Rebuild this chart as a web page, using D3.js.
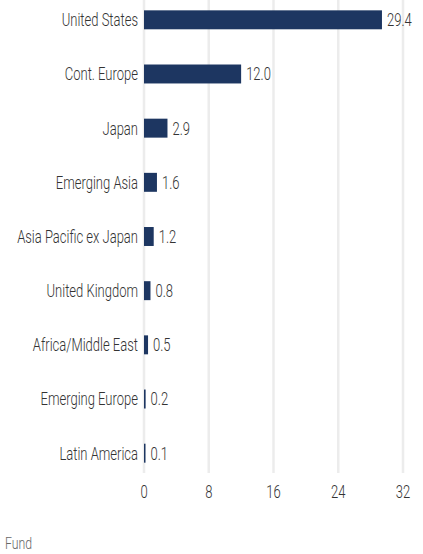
<!DOCTYPE html>
<html lang="en">
<head>
<meta charset="UTF-8">
<script src="https://d3js.org/d3.v7.min.js"></script>
<style>
  body { margin: 0; background: #fff; }
  text { font-family: Roboto, "Liberation Sans", sans-serif; font-weight: 300; }
</style>
</head>
<body>
<svg width="423" height="554"></svg>
<script>
  // regions and fund weights (%)
  const regions = ["United States", "Cont. Europe", "Japan", "Emerging Asia",
    "Asia Pacific ex Japan", "United Kingdom", "Africa/Middle East",
    "Emerging Europe", "Latin America"];
  const values = [29.4, 12.0, 2.9, 1.6, 1.2, 0.8, 0.5, 0.2, 0.1];
  const ticks = [0, 8, 16, 24, 32];

  const svg = d3.select("svg");
  const x = d3.scaleLinear().domain([0, 32]).range([144, 403]);
  const y = d3.scaleBand().domain(regions).range([-7, 480]).paddingInner(0.65).paddingOuter(0.32);
  const fs = 18;

  // squeeze text horizontally to mimic the condensed face
  const probe = svg.append("text").attr("font-size", fs).text("Asia Pacific ex Japan");
  const k = 121 / probe.node().getComputedTextLength();
  probe.remove();

  function label(g, tx, ty, anchor, size, fill, str) {
    return g.append("text")
      .attr("transform", `translate(${tx},${ty}) scale(${k},1)`)
      .attr("text-anchor", anchor)
      .attr("dy", "0.36em")
      .attr("font-size", size).attr("fill", fill)
      .text(str);
  }

  // gridlines
  svg.append("g").selectAll("line")
    .data(ticks).enter().append("line")
    .attr("x1", d => x(d)).attr("x2", d => x(d))
    .attr("y1", 0).attr("y2", 473)
    .attr("stroke", "#ececec").attr("stroke-width", 2.5);

  // tick labels
  const tg = svg.append("g");
  ticks.forEach(t => label(tg, x(t), 492, "middle", fs, "#333", t));

  const rg = svg.append("g");
  regions.forEach((r, i) => {
    const cy = y(r) + y.bandwidth() / 2;
    const w = Math.max(1.5, x(values[i]) - x(0));
    rg.append("rect")
      .attr("x", x(0)).attr("y", y(r))
      .attr("width", w).attr("height", y.bandwidth())
      .attr("fill", "#1d3661");
    label(rg, x(0) - 6, cy, "end", fs, "#333", r);
    label(rg, x(0) + w + 5, cy, "start", fs, "#333", values[i].toFixed(1));
  });

  label(svg, 5, 543, "start", 17, "#666", "Fund");
</script>
</body>
</html>
